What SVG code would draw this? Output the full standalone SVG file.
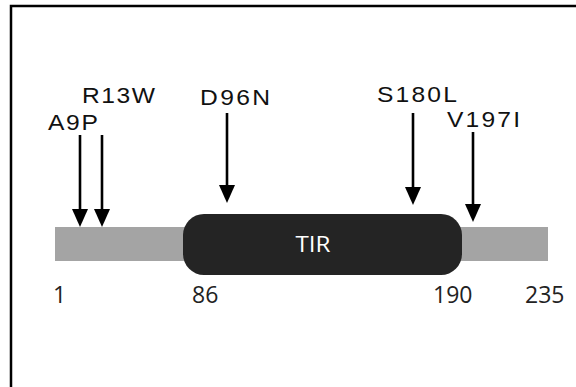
<svg xmlns="http://www.w3.org/2000/svg" width="576" height="387" viewBox="0 0 576 387">
<style>
.lbl{font-family:"Liberation Sans",Arial,sans-serif;font-size:22px;fill:#111}
.num{font-family:"Open Sans","Liberation Sans",sans-serif;font-size:23px;fill:#222}
.arr{stroke:#000;stroke-width:2.6;fill:none}
.head{fill:#000}
</style>
<rect x="0" y="0" width="576" height="387" fill="#fff"/>
<rect x="11" y="6" width="600" height="420" fill="none" stroke="#000" stroke-width="2.5"/>
<g id="bar">
<rect x="55" y="227" width="493" height="34" fill="#a4a4a4"/>
</g>
<g id="tir">
<rect x="183" y="214" width="279" height="61" rx="21" ry="21" fill="#242424"/>
<text x="313" y="252" text-anchor="middle" font-family="'Open Sans','Liberation Sans',sans-serif" font-size="22" fill="#fff" textLength="35" lengthAdjust="spacingAndGlyphs">TIR</text>
</g>
<g id="connectors">
<line class="arr" x1="80" y1="135" x2="80" y2="212"/>
<path class="head" d="M72,209 L88,209 L80,227 Z"/>
<line class="arr" x1="102" y1="135" x2="102" y2="212"/>
<path class="head" d="M94,209 L110,209 L102,227 Z"/>
<line class="arr" x1="227" y1="113" x2="227" y2="188"/>
<path class="head" d="M219,185 L235,185 L227,203 Z"/>
<line class="arr" x1="413" y1="113" x2="413" y2="190"/>
<path class="head" d="M405,187 L421,187 L413,205 Z"/>
<line class="arr" x1="473" y1="132" x2="473" y2="207"/>
<path class="head" d="M465,204 L481,204 L473,222 Z"/>
</g>
<g id="labels">
<text class="lbl" transform="translate(48,130) scale(1.12,1)" textLength="44.6" lengthAdjust="spacing">A9P</text>
<text class="lbl" transform="translate(82,103) scale(1.12,1)" textLength="65.2" lengthAdjust="spacing">R13W</text>
<text class="lbl" transform="translate(200,105) scale(1.12,1)" textLength="62.5" lengthAdjust="spacing">D96N</text>
<text class="lbl" transform="translate(377,102) scale(1.12,1)" textLength="71.4" lengthAdjust="spacing">S180L</text>
<text class="lbl" transform="translate(447,127) scale(1.12,1)" textLength="65.2" lengthAdjust="spacing">V197I</text>
</g>
<g id="numbers">
<text class="num" x="53" y="303">1</text>
<text class="num" x="192" y="303">86</text>
<text class="num" x="433" y="303">190</text>
<text class="num" x="525" y="303">235</text>
</g>
</svg>
